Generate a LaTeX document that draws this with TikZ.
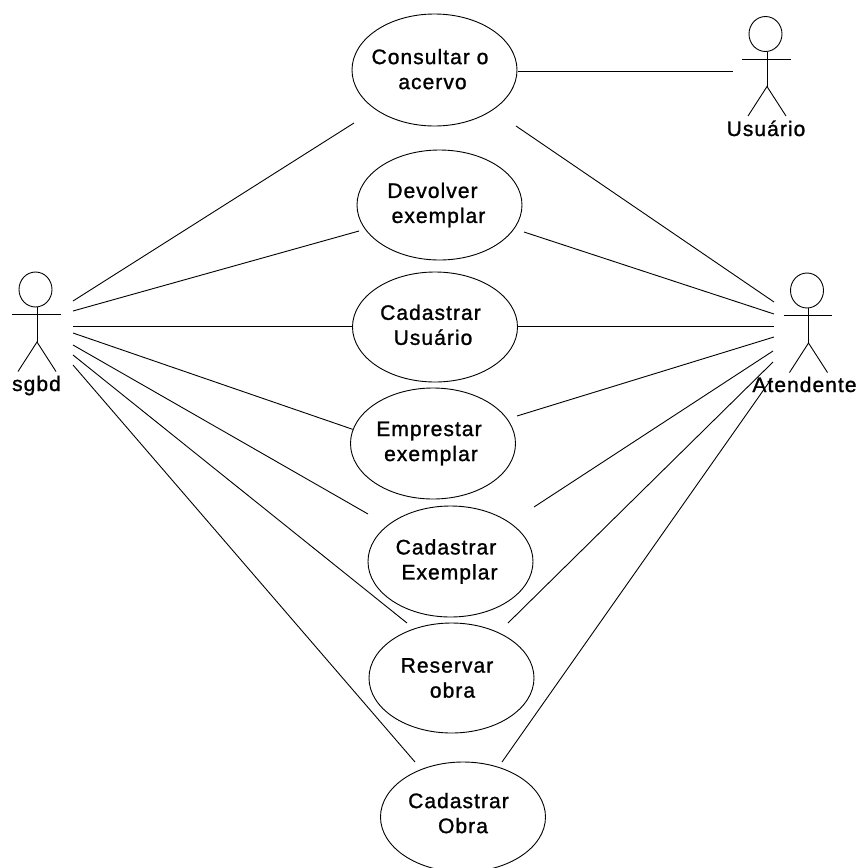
\documentclass[tikz,border=0pt]{standalone}
\usepackage{fontspec}
\newfontfamily\umlfont[LetterSpace=5,FakeBold=1.2]{Liberation Sans}
\usetikzlibrary{shapes.geometric,calc}
\tikzset{
  usecase/.style={draw,ellipse,minimum width=165pt,minimum height=110pt,inner xsep=-10pt,inner ysep=0pt,align=center,font=\umlfont\fontsize{21}{25}\selectfont},
  actorlabel/.style={anchor=base,inner sep=0pt,font=\umlfont\fontsize{21}{25}\selectfont},
  actorhead/.style={draw,ellipse,minimum width=33pt,minimum height=35pt,inner sep=0pt}
}
\begin{document}
\begin{tikzpicture}[x=1pt,y=-1pt,line width=0.9pt]
\useasboundingbox (0,0) rectangle (858,868);

\node[usecase,minimum height=112pt] (consultar) at (434.5,70) {Consultar o\hspace*{9pt}\\acervo\hspace*{4pt}\rule[-2pt]{0pt}{2pt}};
\node[usecase] (devolver) at (439.5,205) {Devolver\hspace*{14pt}\\exemplar\hspace*{2pt}};
\node[usecase] (cadusuario) at (435,327) {Cadastrar\hspace*{9pt}\\Usuário\hspace*{4pt}\rule[-4.5pt]{0pt}{4.5pt}};
\node[usecase,minimum height=111pt] (emprestar) at (433,443.5) {Emprestar\hspace*{8pt}\\exemplar\hspace*{4pt}};
\node[usecase,minimum height=111pt] (cadexemplar) at (450.5,561.5) {Cadastrar\hspace*{9pt}\\Exemplar\hspace*{2pt}};
\node[usecase] (reservar) at (451.5,678) {Reservar\hspace*{9pt}\\\hspace*{2pt}obra};
\node[usecase] (cadobra) at (463,817) {Cadastrar\hspace*{9pt}\\Obra\rule[-8pt]{0pt}{8pt}};

\node[actorhead] (sgbd) at (35.5,289.5) {};
\node[actorhead] (usuario) at (765.5,34) {};
\node[actorhead] (atendente) at (807,290.5) {};
\foreach \a in {sgbd,usuario,atendente} {
  \draw ($(\a)+(-23.5,25)$) -- ($(\a)+(25,25)$);
  \draw ($(\a)+(1.5,17.5)$) -- ($(\a)+(1.5,52.5)$) coordinate (\a hip);
  \draw ($(\a)+(-17.5,82)$) -- (\a hip) -- ($(\a)+(20.5,82)$);
}
\node[actorlabel] (sgbdlabel) at (36.5,391) {sgbd};
\node[actorlabel] (usuariolabel) at (766,136) {Usuário};
\node[actorlabel] (atendentelabel) at (804.5,392) {Atendente};

% sgbd side
\coordinate (s1) at (73,301);
\coordinate (s2) at (73,311);
\coordinate (s3) at (73,326);
\coordinate (s4) at (73,333);
\coordinate (s5) at (73,345);
\coordinate (s6) at (73,355);
\coordinate (s7) at (73,365);
% atendente side
\coordinate (t1) at (774,302);
\coordinate (t2) at (774,314);
\coordinate (t3) at (774,326);
\coordinate (t4) at (774,337);
\coordinate (t5) at (773,351);
\coordinate (t6) at (773,362);
\coordinate (t7) at (772,378);
\coordinate (u1) at (733,71);
% use case ends
\coordinate (c1) at (354,123);
\coordinate (c2) at (516,126);
\coordinate (c3) at (518,71);
\coordinate (d1) at (359,231);
\coordinate (d2) at (524,232);
\coordinate (a1) at (353,326);
\coordinate (a2) at (518,326);
\coordinate (e1) at (517,416);
\coordinate (x1) at (368,514);
\coordinate (x2) at (534,507);
\coordinate (r1) at (407,623);
\coordinate (r2) at (508,623);
\coordinate (o1) at (415,762);
\coordinate (o2) at (502,762);

\draw (c3) -- (u1);
\draw (s1) -- (c1);
\draw (s2) -- (d1);
\draw (s3) -- (a1);
\draw (s4) -- (emprestar.170);
\draw (s5) -- (x1);
\draw (s6) -- (r1);
\draw (s7) -- (o1);
\draw (c2) -- (t1);
\draw (d2) -- (t2);
\draw (a2) -- (t3);
\draw (e1) -- (t4);
\draw (x2) -- (t5);
\draw (r2) -- (t6);
\draw (o2) -- (t7);
\end{tikzpicture}
\end{document}
